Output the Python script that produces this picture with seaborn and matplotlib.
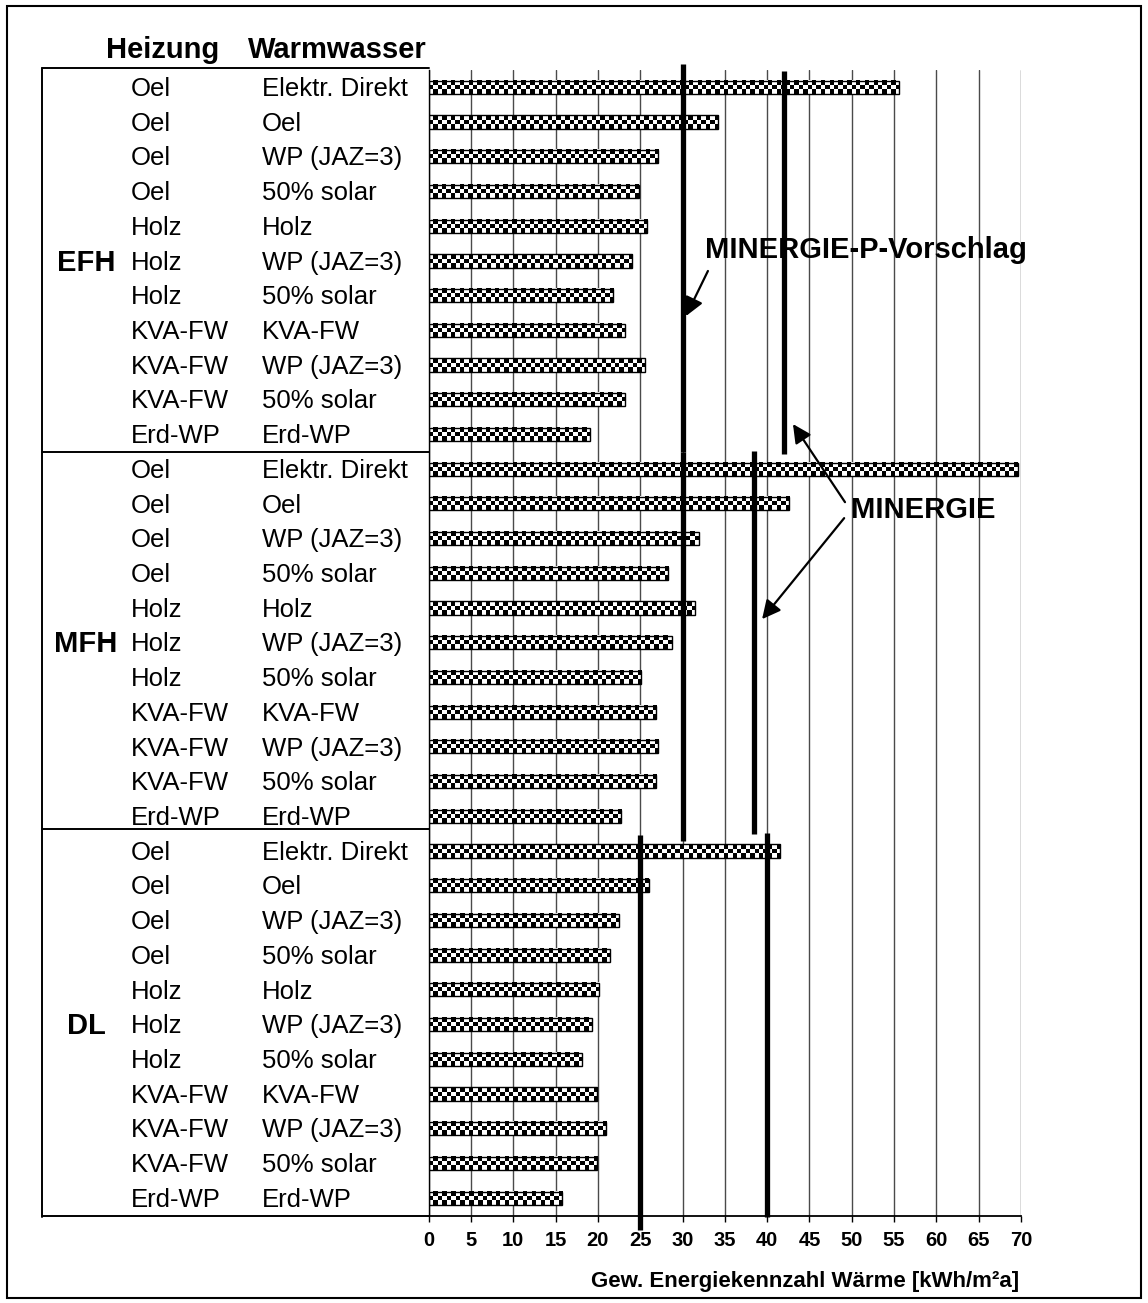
import numpy as np
import pandas as pd
import matplotlib.pyplot as plt
import matplotlib.transforms as mtransforms
from matplotlib.lines import Line2D
from matplotlib.patches import Rectangle
import seaborn as sns

# --- data ---
groups = ["EFH", "MFH", "DL"]
heizung = ["Oel", "Oel", "Oel", "Oel", "Holz", "Holz", "Holz",
           "KVA-FW", "KVA-FW", "KVA-FW", "Erd-WP"]
warmwasser = ["Elektr. Direkt", "Oel", "WP (JAZ=3)", "50% solar", "Holz",
              "WP (JAZ=3)", "50% solar", "KVA-FW", "WP (JAZ=3)", "50% solar",
              "Erd-WP"]
efh = [55.6, 34.2, 27.1, 24.8, 25.8, 24.0, 21.8, 23.2, 25.6, 23.2, 19.1]
mfh = [69.6, 42.6, 31.9, 28.3, 31.5, 28.7, 25.1, 26.9, 27.1, 26.9, 22.7]
dl = [41.5, 26.0, 22.5, 21.4, 20.1, 19.3, 18.1, 19.9, 21.0, 19.9, 15.8]
minergie_p = [30, 30, 25]      # MINERGIE-P-Vorschlag per building type
minergie = [42, 38.5, 40]      # MINERGIE per building type
xticks = list(range(0, 71, 5))
xlabel = "Gew. Energiekennzahl Wärme [kWh/m²a]"

W, H = 1148, 1303
n_per = len(heizung)
n_rows = n_per * len(groups)


def fx(px):
    return px / W


def fy(py):
    return 1 - py / H


df = pd.DataFrame({"row": range(n_rows), "value": efh + mfh + dl})

sns.set_style("white")
plt.rcParams["font.family"] = ["Liberation Sans", "DejaVu Sans"]
plt.rcParams["text.color"] = "black"
plt.rcParams["xtick.color"] = "black"
plt.rcParams["xtick.labelcolor"] = "black"
plt.rcParams["axes.labelcolor"] = "black"

fig = plt.figure(figsize=(W / 100, H / 100), dpi=100)
ax = fig.add_axes([fx(428.7), fy(1215.5), fx(1021) - fx(428.7), fy(70) - fy(1215.5)])

sns.barplot(data=df, x="value", y="row", orient="h", width=0.38,
            color="white", edgecolor="black", linewidth=1, ax=ax)

ax.set_xlim(0, 70)
ax.set_ylim(n_rows - 0.5, -0.5)

# checkerboard fill inside every bar
px_x = ax.transData.transform((1, 0))[0] - ax.transData.transform((0, 0))[0]
px_y = abs(ax.transData.transform((0, 1))[1] - ax.transData.transform((0, 0))[1])
for p in list(ax.patches):
    x0, y0, w, h = p.get_x(), p.get_y(), p.get_width(), p.get_height()
    cell = h * px_y / 3
    ncols = max(1, int(round(w * px_x / cell)))
    arr = np.indices((3, ncols)).sum(axis=0) % 2
    ax.imshow(arr, cmap="gray_r", vmin=0, vmax=1, aspect="auto",
              interpolation="nearest", extent=(x0, x0 + w, y0 + h, y0),
              zorder=2.5)
    p.set_facecolor("none")
    p.set_zorder(3)
ax.set_xlim(0, 70)
ax.set_ylim(n_rows - 0.5, -0.5)

ax.set_xticks(xticks)
ax.set_yticks([])
ax.set_ylabel("")
ax.set_xlabel("")
ax.set_axisbelow(True)
ax.grid(axis="x", color="#4a4a4a", lw=1)
ax.grid(axis="y", visible=False)
for s in ["top", "right"]:
    ax.spines[s].set_visible(False)
ax.spines["left"].set_color("black")
ax.spines["left"].set_linewidth(1)
ax.spines["bottom"].set_color("black")
ax.spines["bottom"].set_linewidth(1.3)
ax.tick_params(axis="x", bottom=True, direction="out", length=4.5, width=1,
               pad=7, labelsize=14.5, color="black", labelcolor="black")
for lbl in ax.get_xticklabels():
    lbl.set_fontweight("bold")

# reference lines
p_ext = [(-0.67, 10.5), (10.5, 21.7), (21.55, 32.93)]
m_ext = [(-0.48, 10.57), (10.47, 21.52), (21.49, 32.55)]
for g in range(len(groups)):
    ax.plot([minergie_p[g]] * 2, list(p_ext[g]), color="black", lw=3.8,
            solid_capstyle="butt", clip_on=False, zorder=4)
    ax.plot([minergie[g]] * 2, list(m_ext[g]), color="black", lw=3.8,
            solid_capstyle="butt", clip_on=False, zorder=4)

# left table
tr = mtransforms.blended_transform_factory(fig.transFigure, ax.transData)
for g, name in enumerate(groups):
    for i in range(n_per):
        r = g * n_per + i
        ax.text(fx(131), r + 0.25, heizung[i], transform=tr, fontsize=18.5,
                va="baseline", ha="left", color="black")
        ax.text(fx(262), r + 0.25, warmwasser[i], transform=tr, fontsize=18.5,
                va="baseline", ha="left", color="black")
    ax.text(fx(86), g * n_per + 5 + 0.28, name, transform=tr, fontsize=21,
            fontweight="bold", va="baseline", ha="center", color="black")

fig.text(fx(106), fy(58), "Heizung", fontsize=21, fontweight="bold", va="baseline")
fig.text(fx(248), fy(58), "Warmwasser", fontsize=21, fontweight="bold", va="baseline")

for y in [68, 452, 829, 1216]:
    fig.add_artist(Line2D([fx(42), fx(428.7)], [fy(y)] * 2, color="black", lw=1.4))
fig.add_artist(Line2D([fx(42)] * 2, [fy(68), fy(1217)], color="black", lw=1.4))

# annotations
ax.text(32.65, 4.92, "MINERGIE-P-Vorschlag", fontsize=21, fontweight="bold",
        va="baseline", ha="left", zorder=5, color="black")
ax.text(49.9, 12.41, "MINERGIE", fontsize=21, fontweight="bold",
        va="baseline", ha="left", zorder=5, color="black")
arrow = dict(arrowstyle="-|>", mutation_scale=28, lw=1.6, color="black",
             shrinkA=0, shrinkB=0)
ax.annotate("", xy=(30.4, 6.59), xytext=(33.0, 5.29), arrowprops=arrow, zorder=5)
ax.annotate("", xy=(43.05, 9.7), xytext=(49.2, 11.95), arrowprops=arrow, zorder=5)
ax.annotate("", xy=(39.4, 15.32), xytext=(49.1, 12.41), arrowprops=arrow, zorder=5)

fig.text(fx(1019), fy(1287), xlabel, fontsize=16, fontweight="bold",
         ha="right", va="baseline")

fig.add_artist(Rectangle((fx(7), fy(1298)), fx(1141) - fx(7), fy(6) - fy(1298),
                         transform=fig.transFigure, fill=False, lw=1.5,
                         ec="black"))

fig.savefig("out.png", dpi=100)
